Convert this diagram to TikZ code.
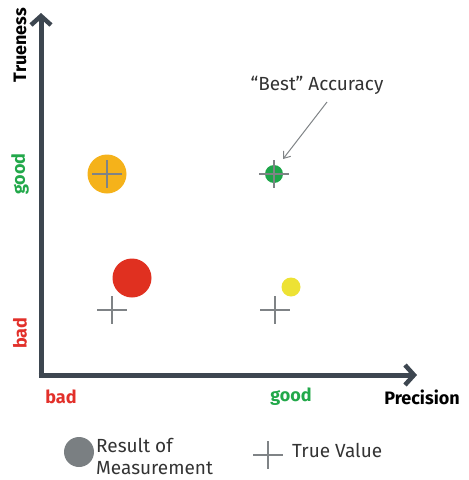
\documentclass[tikz,border=0pt]{standalone}
\usepackage{fontspec}
\setmainfont{Fira Sans}
\usetikzlibrary{arrows.meta}
\definecolor{axisc}{HTML}{3D4650}
\definecolor{plusc}{HTML}{7F8386}
\definecolor{goodc}{HTML}{22A84A}
\definecolor{badc}{HTML}{E2302A}
\definecolor{orangec}{HTML}{F5B21A}
\definecolor{redc}{HTML}{E03020}
\definecolor{yellowc}{HTML}{EDE234}
\definecolor{greenc}{HTML}{1EA54A}
\definecolor{legc}{HTML}{7A7F82}
\definecolor{txtc}{HTML}{333333}
\tikzset{
  axisline/.style={line width=5pt, color=axisc, -{Straight Barb[length=9pt,width=20pt,line width=4.5pt]}},
  plusmark/.pic={\draw[plusc, line width=1.8pt] (-15,0) -- (15,0) (0,-14) -- (0,14);},
  dot/.style={circle, inner sep=0pt, minimum size=#1},
  lbl/.style={font=\fontsize{18}{20}\selectfont\bfseries},
  txt/.style={font=\fontsize{19}{22}\selectfont, text=txtc},
}
\begin{document}
\begin{tikzpicture}[x=1pt,y=-1pt]
\useasboundingbox (0,0) rectangle (469,480);
% axes
\coordinate (o) at (41,375);
\coordinate (ytip) at (41,13);
\coordinate (xtip) at (417,375);
\draw[axisline] (o) -- (ytip);
\draw[axisline] ([xshift=-2.5pt]o) -- (xtip);
% axis labels
\node[lbl, rotate=90] (tru) at (20,45) {Trueness};
\node[lbl, rotate=90, text=goodc] (ygood) at (20,174) {good};
\node[lbl, rotate=90, text=badc] (ybad) at (20,333) {bad};
\node[lbl, text=badc] (xbad) at (61,397) {bad};
\node[lbl, text=goodc] (xgood) at (291,397) {good};
\node[lbl] (prec) at (422,397) {Precision};
% data points
\node[dot=39pt, fill=orangec] (orange) at (107,174) {};
\pic at (107,174) {plusmark};
\node[dot=18pt, fill=greenc] (green) at (274,174) {};
\pic at (274,174) {plusmark};
\node[dot=39pt, fill=redc] (red) at (132,278) {};
\pic at (112,310) {plusmark};
\node[dot=19pt, fill=yellowc] (yellow) at (291,287) {};
\pic at (275,310) {plusmark};
% annotation
\node[txt] (best) at (317,85) {“Best” Accuracy};
\coordinate (bs) at (327,102);
\coordinate (be) at (283,159);
\draw[plusc, line width=1pt, -{Straight Barb[length=6pt,width=9pt]}] (bs) -- (be);
% legend
\node[dot=30pt, fill=legc] (leg) at (79,452) {};
\node[txt, anchor=west, align=left, inner sep=0pt] (legt) at (96,456) {Result of\\Measurement};
\pic at (268,455) {plusmark};
\node[txt, anchor=west, inner sep=0pt] (tv) at (292,450) {True Value};
\end{tikzpicture}
\end{document}
